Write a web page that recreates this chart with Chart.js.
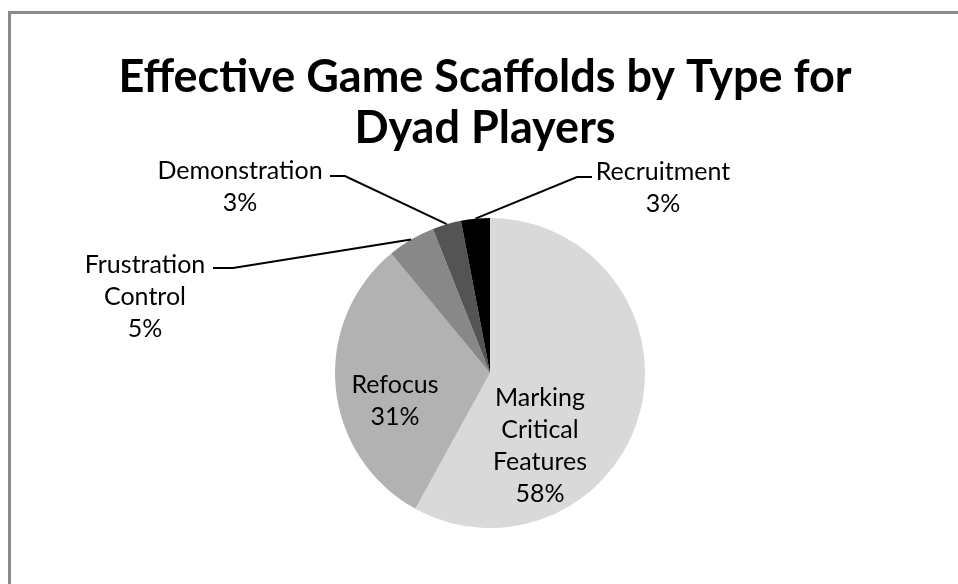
<!DOCTYPE html>
<html>
<head>
<meta charset="utf-8">
<script src="https://cdn.jsdelivr.net/npm/chart.js@4"></script>
<style>
  html, body { margin: 0; padding: 0; background: #fff; overflow: hidden; }
  #wrap { position: relative; width: 958px; height: 584px; }
  #frame {
    position: absolute; left: 8px; top: 11px; width: 1000px; height: 640px;
    border-left: 3px solid #8a8a8a; border-top: 3px solid #8a8a8a;
  }
  canvas { position: absolute; left: 0; top: 0; }
</style>
</head>
<body>
<div id="wrap">
  <div id="frame"></div>
  <canvas id="pieChart" width="958" height="584"></canvas>
</div>
<script>
const titleLines = ["Effective Game Scaffolds by Type for", "Dyad Players"];
const categories = ["Marking Critical Features", "Refocus", "Frustration Control", "Demonstration", "Recruitment"];
const shares = [58, 31, 5, 3, 3]; // percent
const sliceColors = ["#d9d9d9", "#b2b2b2", "#888888", "#545454", "#000000"];

// label text lines, offset of the block centre from the pie centre,
// and the elbow of the leader line for labels sitting outside the pie
const labelLayout = [
  { lines: ["Marking", "Critical", "Features"], dx: 50, dy: 73 },
  { lines: ["Refocus"], dx: -95, dy: 28 },
  { lines: ["Frustration", "Control"], dx: -345, dy: -76, leader: { x: -257, y: -105, len: 20 } },
  { lines: ["Demonstration"], dx: -250, dy: -186, leader: { x: -145, y: -197, len: 15 } },
  { lines: ["Recruitment"], dx: 173, dy: -185, leader: { x: 87, y: -196, len: -15 } },
];

const FONT = "Lato, 'Open Sans', sans-serif";

const pieLabels = {
  id: "pieLabels",
  afterDraw(chart) {
    const ctx = chart.ctx;
    const meta = chart.getDatasetMeta(0);
    const cx = meta.data[0].x, cy = meta.data[0].y;

    ctx.save();
    ctx.fillStyle = "#000";
    ctx.textAlign = "center";
    ctx.textBaseline = "middle";
    ctx.font = "bold 45px " + FONT;
    ctx.fillText(titleLines[0], 485, 77);
    ctx.fillText(titleLines[1], 485, 128);

    ctx.font = "25px " + FONT;
    const lh = 32;
    meta.data.forEach((arc, i) => {
      const lay = labelLayout[i];
      const rows = lay.lines.concat([shares[i] + "%"]);
      const top = cy + lay.dy - (rows.length - 1) * lh / 2;
      rows.forEach((t, k) => ctx.fillText(t, cx + lay.dx, top + k * lh));

      if (lay.leader) {
        const mid = (arc.startAngle + arc.endAngle) / 2;
        const ex = cx + Math.cos(mid) * arc.outerRadius;
        const ey = cy + Math.sin(mid) * arc.outerRadius;
        const lx = cx + lay.leader.x, ly = cy + lay.leader.y;
        ctx.beginPath();
        ctx.strokeStyle = "#000";
        ctx.lineWidth = 2;
        ctx.moveTo(lx - lay.leader.len, ly);
        ctx.lineTo(lx, ly);
        ctx.lineTo(ex, ey);
        ctx.stroke();
      }
    });
    ctx.restore();
  },
};

new Chart(document.getElementById("pieChart"), {
  type: "pie",
  data: {
    labels: categories,
    datasets: [{
      data: shares,
      backgroundColor: sliceColors,
      borderWidth: 0,
    }],
  },
  options: {
    responsive: false,
    animation: false,
    layout: { padding: { top: 218, bottom: 56, left: 335, right: 313 } },
    plugins: {
      legend: { display: false },
      tooltip: { enabled: false },
    },
  },
  plugins: [pieLabels],
});
</script>
</body>
</html>
